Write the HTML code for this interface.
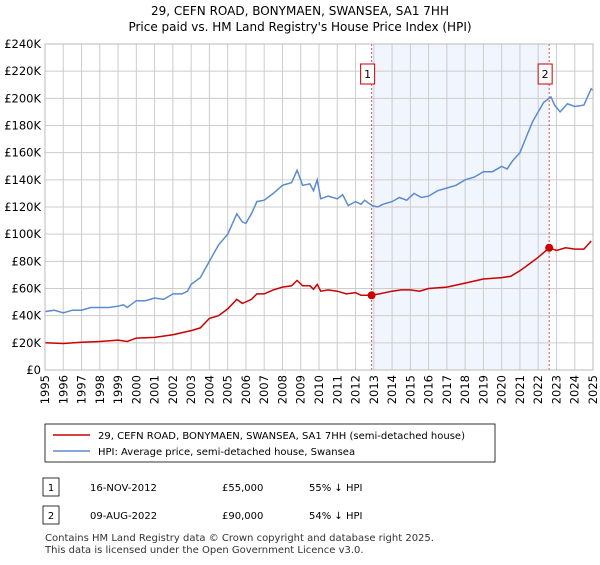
<!DOCTYPE html><html><head><meta charset="utf-8"><style>
body{margin:0;background:#fff;font-family:"Liberation Sans","DejaVu Sans",sans-serif;}
svg text{font-family:"DejaVu Sans","Liberation Sans",sans-serif;}
</style></head><body>
<svg width="600" height="560" viewBox="0 0 600 560">
<text x="300" y="15" text-anchor="middle" font-size="12">29, CEFN ROAD, BONYMAEN, SWANSEA, SA1 7HH</text>
<text x="300" y="31" text-anchor="middle" font-size="12">Price paid vs. HM Land Registry's House Price Index (HPI)</text>
<g id="plot"></g>
<rect x="45" y="424" width="450" height="38" fill="#fff" stroke="#000" stroke-width="0.8"/>
<line x1="53" y1="435" x2="90" y2="435" stroke="#cc0000" stroke-width="1.5"/>
<text x="98" y="439" font-size="10">29, CEFN ROAD, BONYMAEN, SWANSEA, SA1 7HH (semi-detached house)</text>
<line x1="53" y1="451" x2="90" y2="451" stroke="#5b8bd0" stroke-width="1.5"/>
<text x="98" y="455" font-size="10">HPI: Average price, semi-detached house, Swansea</text>
<g>
<rect x="43" y="478" width="16" height="18" fill="#fff" stroke="#000" stroke-width="0.8"/>
<text x="51" y="491" font-size="10" text-anchor="middle">1</text>
<text x="90" y="491" font-size="10">16-NOV-2012</text><text x="222" y="491" font-size="10">£55,000</text><text x="309" y="491" font-size="10">55% ↓ HPI</text></g>
<g>
<rect x="43" y="506" width="16" height="18" fill="#fff" stroke="#000" stroke-width="0.8"/>
<text x="51" y="519" font-size="10" text-anchor="middle">2</text>
<text x="90" y="519" font-size="10">09-AUG-2022</text><text x="222" y="519" font-size="10">£90,000</text><text x="309" y="519" font-size="10">54% ↓ HPI</text></g>
<text x="45" y="541" font-size="10" fill="#333">Contains HM Land Registry data © Crown copyright and database right 2025.</text>
<text x="45" y="553" font-size="10" fill="#333">This data is licensed under the Open Government Licence v3.0.</text>
</svg>
<script>
const hpiX=[1995,1995.5,1996,1996.5,1997,1997.5,1998,1998.5,1999,1999.3,1999.5,2000,2000.5,2001,2001.5,2002,2002.5,2002.8,2003,2003.5,2004,2004.5,2005,2005.5,2005.8,2006,2006.3,2006.6,2007,2007.5,2008,2008.5,2008.8,2009.1,2009.5,2009.7,2009.9,2010.1,2010.5,2011,2011.3,2011.6,2012,2012.3,2012.5,2012.9,2013.2,2013.5,2014,2014.4,2014.8,2015.2,2015.6,2016,2016.5,2017,2017.5,2018,2018.5,2019,2019.5,2020,2020.3,2020.6,2021,2021.3,2021.7,2022,2022.3,2022.5,2022.7,2022.9,2023.2,2023.6,2024,2024.5,2024.9,2025];
const hpiY=[43,44,42,44,44,46,46,46,47,48,46,51,51,53,52,56,56,58,63,68,80,92,100,115,109,108,115,124,125,130,136,138,147,136,137,132,140,126,128,126,129,121,124,122,125,121,120,122,124,127,125,130,127,128,132,134,136,140,142,146,146,150,148,154,160,170,183,190,197,199,201,195,190,196,194,195,207,206];
const redX=[1995,1996,1997,1998,1999,1999.5,2000,2001,2002,2003,2003.5,2004,2004.5,2005,2005.5,2005.8,2006.3,2006.6,2007,2007.5,2008,2008.5,2008.8,2009.1,2009.5,2009.7,2009.9,2010.1,2010.5,2011,2011.5,2012,2012.3,2012.88,2013.3,2014,2014.5,2015,2015.5,2016,2017,2018,2019,2020,2020.5,2021,2021.5,2022,2022.6,2023,2023.5,2024,2024.5,2024.9];
const redY=[20,19.5,20.5,21,22,21,23.5,24,26,29,31,38,40,45,52,49,52,56,56,59,61,62,66,62,62,59.5,63,58,59,58,56,57,55,55,56,58,59,59,58,60,61,64,67,68,69,73,78,83,90,88,90,89,89,95];
const saleX=[2012.88,2022.6];
const saleY=[55,90];
const yTicks=[0,20,40,60,80,100,120,140,160,180,200,220,240];
const xTicks=[1995,1996,1997,1998,1999,2000,2001,2002,2003,2004,2005,2006,2007,2008,2009,2010,2011,2012,2013,2014,2015,2016,2017,2018,2019,2020,2021,2022,2023,2024,2025];
const L=45,R=593,T=44,B=370;
const xs=v=>L+(v-1995)/30*(R-L);
const ys=v=>B-v/240*(B-T);
const NS="http://www.w3.org/2000/svg";
const g=document.getElementById('plot');
function mk(t,a){const e=document.createElementNS(NS,t);for(const k in a)e.setAttribute(k,a[k]);g.appendChild(e);return e;}
let sh=mk('rect',{x:xs(saleX[0]),y:T,width:xs(saleX[1])-xs(saleX[0]),height:B-T,fill:'#eef3fd',opacity:0.8});


yTicks.forEach(v=>{
 let l=mk('line',{x1:L,x2:R,y1:ys(v),y2:ys(v),stroke:'#ccc','stroke-width':1});
 
 
 let t=mk('text',{x:L-4,y:ys(v)+4,'text-anchor':'end','font-size':11.5});
 t.textContent='£'+v+(v?'K':'');
 
 
});
xTicks.forEach(v=>{
 let l=mk('line',{x1:xs(v),x2:xs(v),y1:T,y2:B,stroke:'#ccc','stroke-width':1});
 
 
 let t=mk('text',{x:0,y:0,'font-size':11.5,'text-anchor':'end',transform:`translate(${xs(v)+4},${B+5}) rotate(-90)`});
 t.textContent=v;
 
 
});
saleX.forEach((v,i)=>{
 let l=mk('line',{x1:xs(v),x2:xs(v),y1:T,y2:B,stroke:'#e05050','stroke-width':1,'stroke-dasharray':'2,2'});
 
 
 let r=mk('rect',{x:xs(v)-11,y:64,width:14,height:20,fill:'#fff',stroke:'#cc0000','stroke-width':1});
 
 
 let t=mk('text',{x:xs(v)-4,y:78,'text-anchor':'middle','font-size':11});
 t.textContent=i+1;
 
 
});
function path(X,Y,c,n){
 let d=X.map((x,i)=>(i?'L':'M')+xs(x).toFixed(1)+','+ys(Y[i]).toFixed(1)).join('');
 let p=mk('path',{d:d,fill:'none',stroke:c,'stroke-width':1.5});
 
 
}
path(hpiX,hpiY,'#5b8bd0','hpi-line');
path(redX,redY,'#cc0000','price-paid-line');
saleX.forEach((v,i)=>{
 let c=mk('circle',{cx:xs(v),cy:ys(saleY[i]),r:4,fill:'#cc0000'});
 
 
});
let ax=mk('rect',{x:L,y:T,width:R-L,height:B-T,fill:'none',stroke:'#bbb','stroke-width':1});


</script>
</body></html>
